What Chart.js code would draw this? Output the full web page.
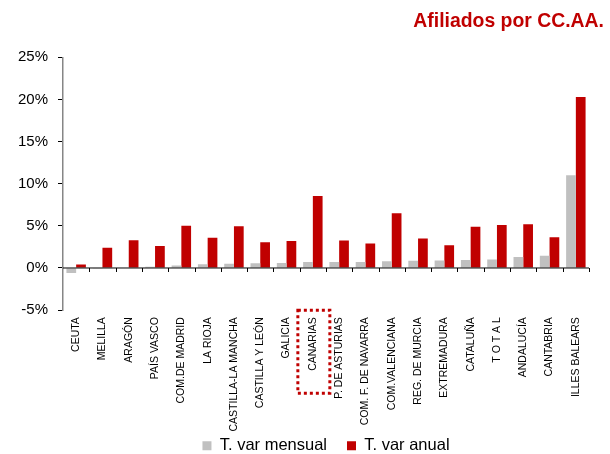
<!DOCTYPE html>
<html>
<head>
  <meta charset="UTF-8">
  <title>Afiliados por CC.AA.</title>
  <script src="https://cdn.jsdelivr.net/npm/chart.js"></script>
  <style>
    body {
      margin: 0;
      background: #ffffff;
      overflow: hidden;
    }
    canvas {
      display: block;
    }
  </style>
</head>
<body>
  <canvas id="afiliadosChart" width="610" height="485"></canvas>

  <script>
    const categories = ['CEUTA', 'MELILLA', 'ARAGÓN', 'PAÍS VASCO', 'COM.DE MADRID', 'LA RIOJA',
      'CASTILLA-LA MANCHA', 'CASTILLA Y LEÓN', 'GALICIA', 'CANARIAS', 'P. DE ASTURIAS',
      'COM. F. DE NAVARRA', 'COM.VALENCIANA', 'REG. DE MURCIA', 'EXTREMADURA', 'CATALUÑA',
      'T O T A L', 'ANDALUCÍA', 'CANTABRIA', 'ILLES BALEARS'];
    const varMensual = [-0.6, -0.1, 0.0, 0.15, 0.3, 0.45, 0.5, 0.55, 0.6, 0.7,
      0.7, 0.7, 0.8, 0.85, 0.9, 0.95, 1.0, 1.3, 1.45, 11.0];
    const varAnual = [0.4, 2.4, 3.3, 2.6, 5.0, 3.6, 4.95, 3.05, 3.2, 8.55,
      3.25, 2.9, 6.5, 3.5, 2.7, 4.9, 5.1, 5.2, 3.65, 20.3];
    const yTicks = [-5, 0, 5, 10, 15, 20, 25];
    const highlighted = 'CANARIAS';

    const FONT = "'Liberation Sans', Arial, sans-serif";
    const RED = '#c00000';
    const GREY = '#c0c0c0';

    // eje en el 0 con las marcas entre categorías + recuadro punteado
    const extras = {
      id: 'extras',
      afterLayout(chart) {
        // la leyenda va pegada a las etiquetas
        chart.legend.top -= 21;
        chart.legend.bottom -= 21;
      },
      afterDatasetsDraw(chart) {
        const { ctx, chartArea, scales } = chart;
        const x = scales.x, y = scales.y;
        const y0 = y.getPixelForValue(0);
        const step = x.getPixelForValue(1) - x.getPixelForValue(0);

        ctx.save();
        ctx.strokeStyle = '#000';
        ctx.lineWidth = 1;
        ctx.beginPath();
        ctx.moveTo(chartArea.left, y0);
        ctx.lineTo(chartArea.right, y0);
        for (let i = 0; i < categories.length; i++) {
          const bx = Math.round(x.getPixelForValue(i) + step / 2) + 0.5;
          ctx.moveTo(bx, y0);
          ctx.lineTo(bx, y0 + 4);
        }
        ctx.stroke();

        const idx = categories.indexOf(highlighted);
        const cx = x.getPixelForValue(idx);
        ctx.strokeStyle = RED;
        ctx.lineWidth = 3;
        ctx.setLineDash([3, 3]);
        ctx.strokeRect(cx - 15, chartArea.bottom, 32, 83);
        ctx.restore();
      }
    };

    new Chart(document.getElementById('afiliadosChart'), {
      type: 'bar',
      data: {
        labels: categories,
        datasets: [{
          label: 'T. var mensual',
          data: varMensual,
          backgroundColor: GREY,
          barPercentage: 1,
          categoryPercentage: 0.74
        }, {
          label: 'T. var anual',
          data: varAnual,
          backgroundColor: RED,
          barPercentage: 1,
          categoryPercentage: 0.74
        }]
      },
      options: {
        responsive: false,
        animation: false,
        layout: { padding: { left: 0, right: 6, top: 0, bottom: 0 } },
        plugins: {
          title: {
            display: true,
            text: 'Afiliados por CC.AA.',
            align: 'end',
            color: RED,
            font: { family: FONT, size: 19.4, weight: 'bold' },
            padding: { top: 10, bottom: 24 }
          },
          legend: {
            position: 'bottom',
            fullSize: false,
            labels: {
              color: '#000',
              font: { family: FONT, size: 16.5 },
              boxWidth: 9,
              boxHeight: 9,
              padding: 20
            }
          },
          tooltip: { enabled: false }
        },
        scales: {
          x: {
            grid: { display: false, drawTicks: false },
            border: { display: false },
            ticks: {
              color: '#000',
              font: { family: FONT, size: 10.5 },
              minRotation: 90,
              maxRotation: 90,
              autoSkip: false,
              padding: 7
            }
          },
          y: {
            min: -5,
            max: 25,
            afterBuildTicks: s => { s.ticks = yTicks.map(v => ({ value: v })); },
            afterFit: s => { s.width = 63; },
            grid: {
              drawOnChartArea: false,
              tickLength: 5,
              tickColor: '#000'
            },
            border: { display: true, color: '#868686', width: 1.5 },
            ticks: {
              color: '#000',
              font: { family: FONT, size: 15 },
              padding: 10,
              callback: v => v + '%'
            }
          },
          yRight: {
            position: 'right',
            display: true,
            afterFit: s => { s.width = 15; },
            grid: { display: false },
            border: { display: false },
            ticks: { display: false }
          }
        }
      },
      plugins: [extras]
    });
  </script>
</body>
</html>
